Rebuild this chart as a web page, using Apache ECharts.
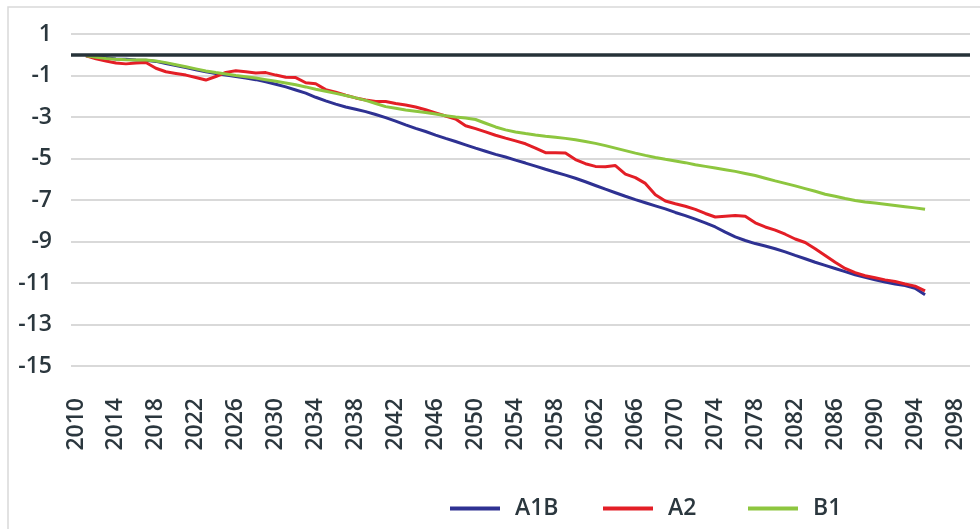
<!DOCTYPE html>
<html>
<head>
<meta charset="utf-8">
<script src="https://cdn.jsdelivr.net/npm/echarts@6/dist/echarts.min.js"></script>
<style>
  html, body { margin: 0; padding: 0; background: #fff; }
  #main { width: 980px; height: 529px; }
</style>
</head>
<body>
<div id="main"></div>
<script>
// years 2010..2099, data from 2011 to 2095
var years = [];
for (var y = 2010; y <= 2099; y++) years.push(String(y));

var a1b = [null,
  -0.05, -0.1, -0.15, -0.2, -0.22, -0.25, -0.27, -0.32, -0.42, -0.52,
  -0.62, -0.72, -0.82, -0.9, -0.98, -1.05, -1.12, -1.2, -1.3, -1.42,
  -1.55, -1.7, -1.85, -2.05, -2.22, -2.38, -2.52, -2.63, -2.74, -2.88,
  -3.03, -3.2, -3.38, -3.55, -3.7, -3.87, -4.03, -4.18, -4.34, -4.5,
  -4.65, -4.8, -4.93, -5.08, -5.22, -5.37, -5.52, -5.66, -5.8, -5.95,
  -6.12, -6.3, -6.48, -6.65, -6.82, -6.98, -7.13, -7.28, -7.43, -7.6,
  -7.75, -7.92, -8.1, -8.3, -8.55, -8.78, -8.95, -9.1, -9.22, -9.35,
  -9.5, -9.67, -9.83, -10.0, -10.15, -10.3, -10.45, -10.6, -10.73, -10.85,
  -10.95, -11.05, -11.12, -11.25, -11.57];

var a2 = [null,
  -0.05, -0.2, -0.3, -0.4, -0.44, -0.4, -0.37, -0.65, -0.82, -0.9,
  -0.98, -1.1, -1.22, -1.05, -0.85, -0.77, -0.82, -0.88, -0.86, -0.98,
  -1.08, -1.1, -1.35, -1.4, -1.68, -1.8, -1.95, -2.08, -2.18, -2.25,
  -2.25, -2.35, -2.42, -2.52, -2.65, -2.8, -2.95, -3.1, -3.42, -3.56,
  -3.72, -3.88, -4.02, -4.15, -4.29, -4.5, -4.72, -4.72, -4.74, -5.05,
  -5.25, -5.38, -5.4, -5.34, -5.75, -5.92, -6.2, -6.75, -7.05, -7.18,
  -7.3, -7.45, -7.65, -7.82, -7.78, -7.75, -7.78, -8.1, -8.3, -8.45,
  -8.65, -8.88, -9.05, -9.35, -9.67, -10.0, -10.3, -10.5, -10.65, -10.75,
  -10.85, -10.93, -11.05, -11.15, -11.38];

var b1 = [null,
  -0.05, -0.12, -0.18, -0.22, -0.24, -0.25, -0.25, -0.3, -0.38, -0.48,
  -0.58, -0.68, -0.78, -0.86, -0.93, -1.0, -1.06, -1.12, -1.2, -1.28,
  -1.36, -1.45, -1.55, -1.66, -1.76, -1.86, -1.96, -2.08, -2.2, -2.35,
  -2.5, -2.58, -2.66, -2.72, -2.78, -2.86, -2.94, -3.0, -3.05, -3.12,
  -3.3, -3.48, -3.62, -3.72, -3.8, -3.87, -3.93, -3.98, -4.03, -4.1,
  -4.18, -4.27, -4.38, -4.5, -4.62, -4.74, -4.85, -4.95, -5.04, -5.12,
  -5.2, -5.3, -5.38, -5.46, -5.54, -5.62, -5.72, -5.82, -5.95, -6.08,
  -6.2, -6.32, -6.45, -6.58, -6.72, -6.82, -6.93, -7.02, -7.1, -7.15,
  -7.2, -7.26, -7.32, -7.38, -7.45];

var seriesNames = ['A1B', 'A2', 'B1'];
var seriesColors = ['#2e3192', '#e31e26', '#8dc63f'];

var myChart = echarts.init(document.getElementById('main'));

var textStyle = {
    fontFamily: 'Open Sans',
    fontWeight: 600,
    fontSize: 23,
    color: '#2b373e'
};

// one legend per item so each sits where the reference puts it
var legendLeft = [445, 598, 743];
var legends = seriesNames.map(function(name, i) {
    return {
        left: legendLeft[i],
        top: 492,
        icon: 'rect',
        itemWidth: 50,
        itemHeight: 4,
        textStyle: Object.assign({ padding: [0, 0, 0, 10] }, textStyle),
        data: [name]
    };
});

var option = {
    animation: false,
    graphic: [{
        type: 'rect',
        shape: { x: 8, y: 7, width: 1000, height: 600 },
        style: { fill: 'none', stroke: '#d9d9d9', lineWidth: 1.5 },
        silent: true
    }],
    grid: {
        left: 71,
        right: 10,
        top: 34,
        bottom: 163,
        outerBoundsMode: 'none'
    },
    legend: legends,
    xAxis: {
        type: 'category',
        data: years,
        boundaryGap: true,
        axisLine: { show: false },
        axisTick: { show: false },
        axisLabel: Object.assign({
            interval: 3,
            rotate: 90,
            margin: 32
        }, textStyle)
    },
    yAxis: {
        type: 'value',
        min: -15,
        max: 1,
        interval: 2,
        axisLine: { show: false },
        axisTick: { show: false },
        splitLine: { lineStyle: { color: '#d9d9d9', width: 2 } },
        axisLabel: Object.assign({ margin: 19 }, textStyle)
    },
    series: [{
        name: 'A1B',
        type: 'line',
        data: a1b,
        symbol: 'none',
        lineStyle: { color: seriesColors[0], width: 3 },
        itemStyle: { color: seriesColors[0] },
        markLine: {
            silent: true,
            symbol: 'none',
            label: { show: false },
            lineStyle: { color: '#263238', width: 3.5, type: 'solid' },
            data: [{ yAxis: 0 }]
        }
    }, {
        name: 'A2',
        type: 'line',
        data: a2,
        symbol: 'none',
        lineStyle: { color: seriesColors[1], width: 3 },
        itemStyle: { color: seriesColors[1] }
    }, {
        name: 'B1',
        type: 'line',
        data: b1,
        symbol: 'none',
        lineStyle: { color: seriesColors[2], width: 3 },
        itemStyle: { color: seriesColors[2] }
    }]
};

myChart.setOption(option);
</script>
</body>
</html>
